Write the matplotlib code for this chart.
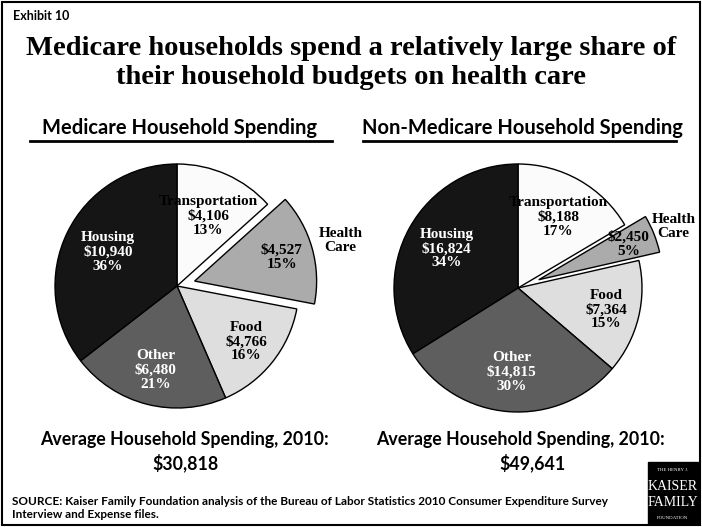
import matplotlib
matplotlib.use("Agg")
import matplotlib.pyplot as plt
from matplotlib.patches import Rectangle
import numpy as np

# ---- data ----
categories = ["Transportation", "Health Care", "Food", "Other", "Housing"]
medicare_values = [4106, 4527, 4766, 6480, 10940]
medicare_pcts = ["13%", "15%", "16%", "21%", "36%"]
nonmedicare_values = [8188, 2450, 7364, 14815, 16824]
nonmedicare_pcts = ["17%", "5%", "15%", "30%", "34%"]
medicare_total = "$30,818"
nonmedicare_total = "$49,641"

title = "Medicare households spend a relatively large share of\ntheir household budgets on health care"
sub_left = "Medicare Household Spending"
sub_right = "Non-Medicare Household Spending"
avg_label = "Average Household Spending, 2010:"
source = ("SOURCE: Kaiser Family Foundation analysis of the Bureau of Labor Statistics 2010 Consumer Expenditure Survey\n"
          "Interview and Expense files.")

colors = ["#fbfbfb", "#ababab", "#dedede", "#5e5e5e", "#151515"]
text_colors = ["black", "black", "black", "white", "white"]

W, H = 702, 527
SERIF = ["Liberation Serif", "DejaVu Serif"]
SANS = ["Lato", "DejaVu Sans"]

fig = plt.figure(figsize=(W / 100, H / 100), dpi=100)
ax = fig.add_axes([0, 0, 1, 1])


def Y(y):
    return H - y


def draw_pie(center, radius, values, pcts, explode_hc, dists, hc_out_dist):
    explode = [0, explode_hc * radius, 0, 0, 0]
    wedges, _ = ax.pie(values, colors=colors, startangle=90, counterclock=False,
                       explode=explode, center=center, radius=radius,
                       wedgeprops=dict(edgecolor="black", linewidth=1.0))
    for i, w in enumerate(wedges):
        mid = np.deg2rad((w.theta1 + w.theta2) / 2)
        d = dists[i] * radius
        x = center[0] + d * np.cos(mid)
        y = center[1] + d * np.sin(mid)
        amount = "${:,}".format(values[i])
        if categories[i] == "Health Care":
            txt = f"{amount}\n{pcts[i]}"
            do = hc_out_dist * radius
            ax.text(center[0] + do * np.cos(mid), center[1] + do * np.sin(mid),
                    "Health\nCare", ha="center", va="center", fontsize=11,
                    fontweight="bold", family=SERIF, color="black", linespacing=1.1)
        else:
            txt = f"{categories[i]}\n{amount}\n{pcts[i]}"
        ax.text(x, y, txt, ha="center", va="center", fontsize=11, fontweight="bold",
                family=SERIF, color=text_colors[i], linespacing=1.1)


draw_pie((177, Y(286)), 122, medicare_values, medicare_pcts, 0.15,
         [0.63, 0.89, 0.73, 0.71, 0.63], 1.39)
draw_pie((518, Y(288)), 124, nonmedicare_values, nonmedicare_pcts, 0.18,
         [0.66, 0.96, 0.73, 0.68, 0.66], 1.35)

ax.set_xlim(0, W)
ax.set_ylim(0, H)
ax.set_aspect("equal")
ax.axis("off")

# border
ax.add_patch(Rectangle((2, 2), W - 4, H - 4, fill=False, edgecolor="black", linewidth=1.5))

# header texts
ax.text(13, Y(16), "Exhibit 10", ha="left", va="center", fontsize=9, fontweight="bold", family=SANS)
ax.text(W / 2, Y(63), title, ha="center", va="center", fontsize=20.5, fontweight="bold",
        family=SERIF, linespacing=1.2)

# subtitles
ax.text(180, Y(128), sub_left, ha="center", va="center", fontsize=14.5, fontweight="bold", family=SANS)
ax.text(522, Y(128), sub_right, ha="center", va="center", fontsize=14.5, fontweight="bold", family=SANS)
ax.plot([30, 332], [Y(141), Y(141)], color="black", linewidth=2)
ax.plot([363, 676], [Y(141), Y(141)], color="black", linewidth=2)

# averages
ax.text(184, Y(440), avg_label, ha="center", va="center", fontsize=12.8, fontweight="bold", family=SANS)
ax.text(186, Y(463), medicare_total, ha="center", va="center", fontsize=12.8, fontweight="bold", family=SANS)
ax.text(520, Y(440), avg_label, ha="center", va="center", fontsize=12.8, fontweight="bold", family=SANS)
ax.text(533, Y(463), nonmedicare_total, ha="center", va="center", fontsize=12.8, fontweight="bold", family=SANS)

# source
ax.text(12, Y(508), source, ha="left", va="center", fontsize=8.5, fontweight="bold", family=SANS,
        linespacing=1.2)

# logo
ax.add_patch(Rectangle((648, Y(524)), 50, 62, facecolor="black", edgecolor="black"))
ax.text(673, Y(470), "THE HENRY J.", ha="center", va="center", fontsize=3.5, color="white", family=SERIF)
ax.text(673, Y(486), "KAISER", ha="center", va="center", fontsize=10, color="white", family=SERIF)
ax.text(673, Y(503), "FAMILY", ha="center", va="center", fontsize=10, color="white", family=SERIF)
ax.text(673, Y(518), "FOUNDATION", ha="center", va="center", fontsize=3.5, color="white", family=SERIF)

fig.savefig("out.png", dpi=100, facecolor="white")
